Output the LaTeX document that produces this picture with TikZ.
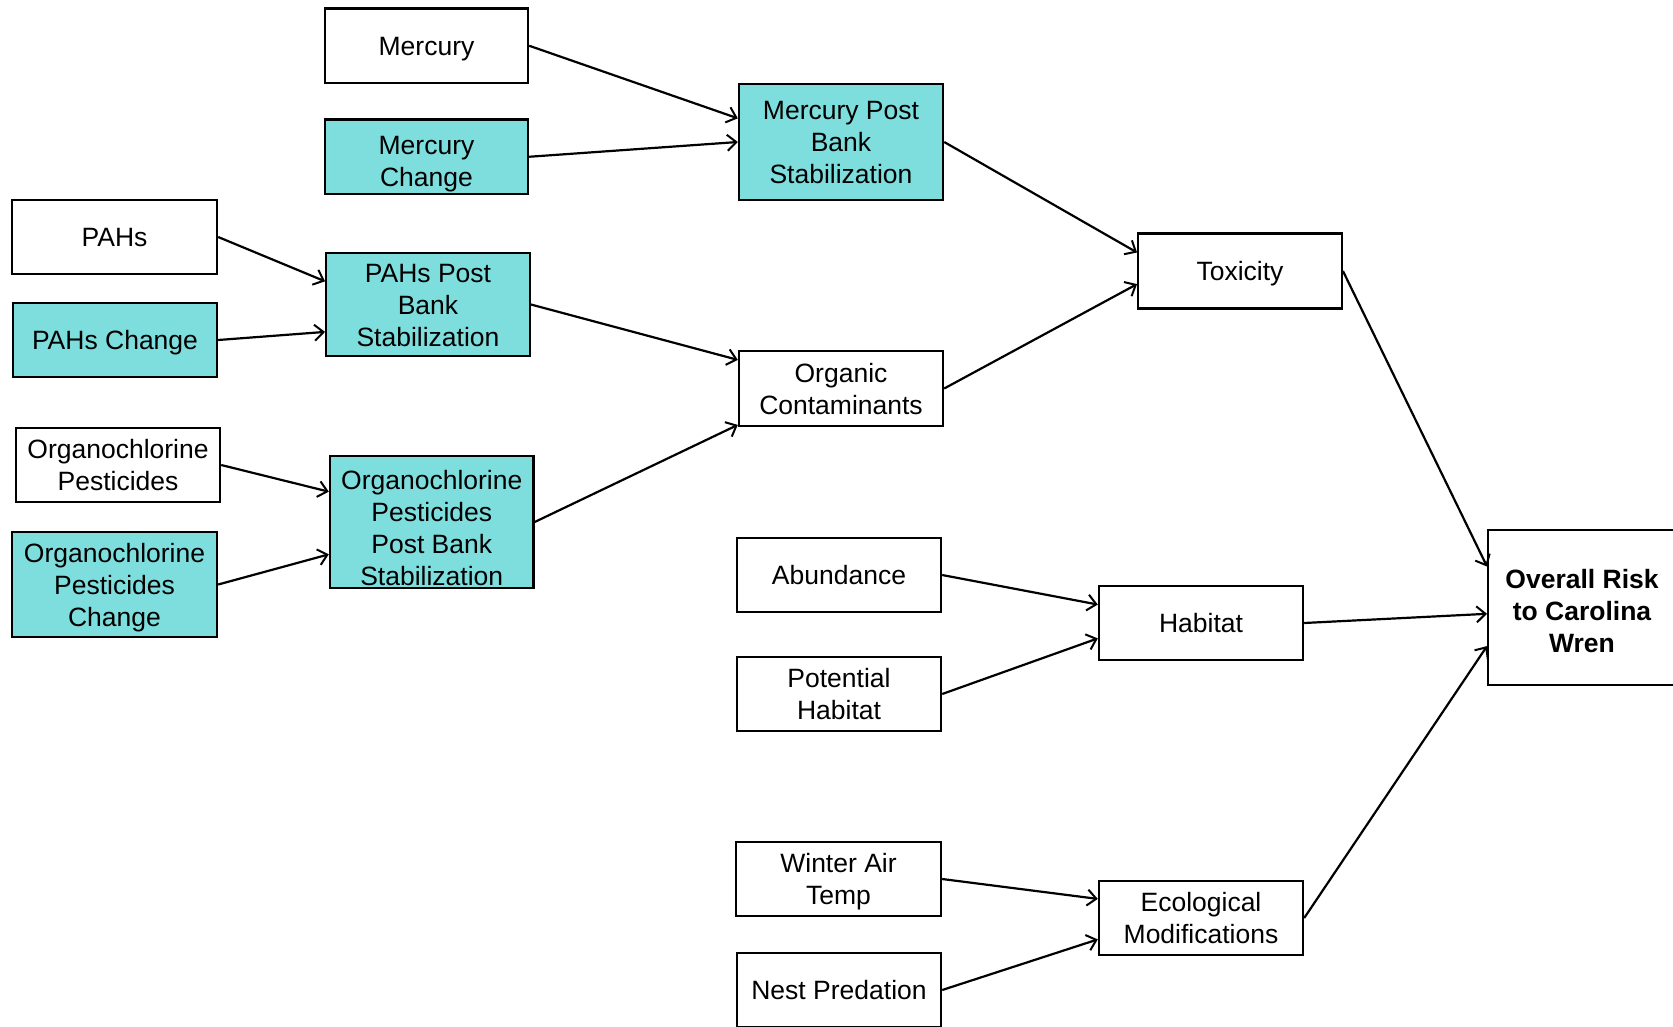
\documentclass[tikz,border=0pt]{standalone}
\usepackage{fontspec}
\setmainfont{Liberation Sans}
\usetikzlibrary{arrows.meta,calc}
\definecolor{teal1}{RGB}{126,222,222}
\begin{document}
\begin{tikzpicture}[x=1pt,y=-1pt,
  box/.style={draw=black,line width=2.4pt,fill=white,inner sep=0pt,align=center,
    font=\fontsize{26.5}{32}\selectfont,text height=25.5pt,text depth=6.5pt},
  tbox/.style={box,fill=teal1},
  two/.style={text height=57.5pt},
  three/.style={text height=89.5pt},
  link/.style={line width=2.2pt,-{Straight Barb[length=9pt,width=16pt,line width=2pt]}}]
\useasboundingbox (0,0) rectangle (1673,1026);

% contaminant inputs
\node[box,minimum width=203pt,minimum height=74.5pt] (merc) at (426.5,45.75) {Mercury};
\node[tbox,text height=66pt,minimum width=203pt,minimum height=74.5pt] (mercch) at (426.5,156.75) {Mercury\\Change};
\node[tbox,three,minimum width=204pt,minimum height=116pt] (mpbs) at (841,142) {Mercury Post\\Bank\\Stabilization};

\node[box,minimum width=205pt,minimum height=74pt] (pahs) at (114.5,237) {PAHs};
\node[tbox,minimum width=204pt,minimum height=74pt] (pahsch) at (115,340) {PAHs Change};
\node[tbox,three,minimum width=203.5pt,minimum height=103pt] (pahspbs) at (428,304.5) {PAHs Post\\Bank\\Stabilization};

\node[box,two,minimum width=204pt,minimum height=73.5pt] (op) at (118,465) {Organochlorine\\Pesticides};
\node[tbox,three,minimum width=205pt,minimum height=105pt] (opch) at (114.5,584.5) {Organochlorine\\Pesticides\\Change};
\node[tbox,text height=126.8pt,text depth=0pt,minimum width=203.5pt,minimum height=132.4pt] (oppbs) at (431.75,522) {Organochlorine\\Pesticides\\Post Bank\\Stabilization};

\node[box,two,minimum width=204pt,minimum height=75pt] (oc) at (841,388.5) {Organic\\Contaminants};
\node[box,minimum width=203.5pt,minimum height=74.7pt] (tox) at (1240,271) {Toxicity};

% habitat inputs
\node[box,minimum width=204pt,minimum height=74.5pt] (abund) at (839,575) {Abundance};
\node[box,two,minimum width=204pt,minimum height=74pt] (ph) at (839,694) {Potential\\Habitat};
\node[box,minimum width=204pt,minimum height=74.5pt] (hab) at (1201,623) {Habitat};

% ecological inputs
\node[box,two,minimum width=205pt,minimum height=73.5pt] (wat) at (838.5,879) {Winter Air\\Temp};
\node[box,minimum width=204pt,minimum height=74pt] (nest) at (839,990) {Nest Predation};
\node[box,two,minimum width=204pt,minimum height=74pt] (eco) at (1201,918) {Ecological\\Modifications};

% endpoint
\node[box,text height=97pt,minimum width=187.5pt,minimum height=155pt,font=\fontsize{26.5}{32}\selectfont\bfseries] (risk) at (1582,607.5) {Overall Risk\\to Carolina\\Wren};

% arrow landing points on the west sides
\coordinate (mpbs-a) at ($(mpbs.north west)!0.3!(mpbs.south west)$);
\coordinate (pahspbs-a) at ($(pahspbs.north west)!0.28!(pahspbs.south west)$);
\coordinate (pahspbs-b) at ($(pahspbs.north west)!0.76!(pahspbs.south west)$);
\coordinate (oppbs-a) at ($(oppbs.north west)!0.275!(oppbs.south west)$);
\coordinate (oppbs-b) at ($(oppbs.north west)!0.74!(oppbs.south west)$);
\coordinate (oc-a) at ($(oc.north west)!0.13!(oc.south west)$);
\coordinate (oc-b) at ($(oc.north west)!0.97!(oc.south west)$);
\coordinate (tox-a) at ($(tox.north west)!0.26!(tox.south west)$);
\coordinate (tox-b) at ($(tox.north west)!0.67!(tox.south west)$);
\coordinate (hab-a) at ($(hab.north west)!0.26!(hab.south west)$);
\coordinate (hab-b) at ($(hab.north west)!0.7!(hab.south west)$);
\coordinate (eco-a) at ($(eco.north west)!0.25!(eco.south west)$);
\coordinate (eco-b) at ($(eco.north west)!0.78!(eco.south west)$);
\coordinate (risk-a) at ($(risk.north west)!0.24!(risk.south west)$);
\coordinate (risk-b) at ($(risk.north west)!0.54!(risk.south west)$);
\coordinate (risk-c) at ($(risk.north west)!0.745!(risk.south west)$);

% connectors
\draw[link] (merc.east) -- (mpbs-a);
\draw[link] (mercch.east) -- (mpbs.west);
\draw[link] (pahs.east) -- (pahspbs-a);
\draw[link] (pahsch.east) -- (pahspbs-b);
\draw[link] (op.east) -- (oppbs-a);
\draw[link] (opch.east) -- (oppbs-b);
\draw[link] (pahspbs.east) -- (oc-a);
\draw[link] (oppbs.east) -- (oc-b);
\draw[link] (mpbs.east) -- (tox-a);
\draw[link] (oc.east) -- (tox-b);
\draw[link] (abund.east) -- (hab-a);
\draw[link] (ph.east) -- (hab-b);
\draw[link] (wat.east) -- (eco-a);
\draw[link] (nest.east) -- (eco-b);
\draw[link] (tox.east) -- (risk-a);
\draw[link] (hab.east) -- (risk-b);
\draw[link] (eco.east) -- (risk-c);
\end{tikzpicture}
\end{document}
